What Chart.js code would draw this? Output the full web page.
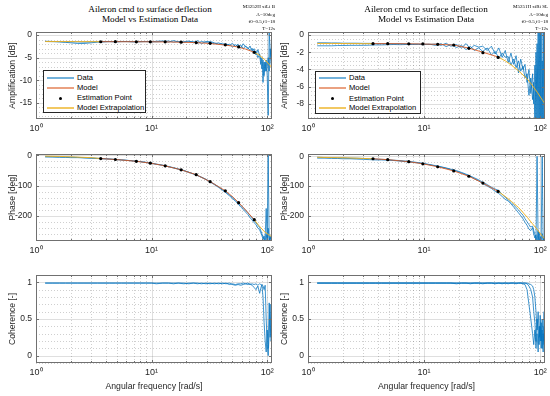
<!DOCTYPE html>
<html><head><meta charset="utf-8">
<script src="https://cdn.jsdelivr.net/npm/chart.js@4.4.0/dist/chart.umd.min.js"></script>
<style>
body{margin:0;background:#fff;}
#root{position:relative;width:550px;height:396px;overflow:hidden;background:#fff;font-family:'Liberation Sans',Arial,sans-serif;}
canvas{position:absolute;}
.title{position:absolute;font-family:'Liberation Serif','Times New Roman',serif;font-size:9.2px;line-height:9.5px;text-align:center;color:#000;white-space:nowrap;}
.note{position:absolute;font-family:'Liberation Serif','Times New Roman',serif;font-size:5px;line-height:7.3px;text-align:right;color:#000;white-space:nowrap;}
.legend{position:absolute;background:#fff;border:1px solid #262626;box-sizing:border-box;}
.row{position:absolute;left:0;height:10px;width:100%;}
.sw{position:absolute;left:3px;width:27px;top:4px;height:2px;}
.dot{position:absolute;left:15px;top:3.5px;width:3px;height:3px;border-radius:50%;background:#000;}
.lbl{position:absolute;left:33px;top:0;font-size:7.6px;line-height:10px;color:#000;white-space:nowrap;}
</style></head>
<body><div id="root"></div>
<script>
// ---------- data ----------
const freqData = [1.2,1.4,1.6,1.8,2.0,2.3,2.6,3.0,3.4,3.8,
  4.3,4.9,5.5,6.2,7.0,7.9,8.9,10,11,12.5,
  14,15.5,17,19,21,23,25,27,29.5,32,
  35,38,41,44,47,50,53,56,59,62,
  65,68,71,74,77,80,83,86,88,90,
  92,94,96,98,100,102,104,106,108,110];

const ampL_run1 = [-1.35,-1.4,-1.5,-1.6,-1.7,-1.85,-1.85,-1.7,-1.55,-1.5,
  -1.45,-1.45,-1.4,-1.45,-1.5,-1.4,-1.45,-1.5,-1.35,-1.3,
  -1.55,-1.2,-1.5,-1.45,-1.3,-1.7,-1.2,-1.9,-1.4,-1.6,
  -1.9,-1.7,-2.1,-1.9,-2.3,-1.8,-2.5,-2.0,-2.9,-1.9,
  -2.6,-3.1,-2.4,-3.6,-3.0,-4.4,-3.2,-4.5,-6.5,-5.0,
  -10.5,-6.0,-8.0,-5.5,-9.0,-17.8,0.6,-3.0,-6.5,-7.0];
const ampL_run2 = [-1.4,-1.45,-1.45,-1.5,-1.5,-1.5,-1.55,-1.5,-1.45,-1.45,
  -1.4,-1.5,-1.45,-1.4,-1.45,-1.5,-1.4,-1.45,-1.5,-1.4,
  -1.3,-1.55,-1.4,-1.6,-1.45,-1.4,-1.8,-1.4,-1.6,-1.4,
  -1.7,-2.0,-1.8,-2.3,-2.0,-2.6,-2.1,-2.5,-2.2,-3.0,
  -2.4,-2.8,-3.4,-2.9,-4.0,-3.5,-5.0,-4.2,-5.5,-7.5,
  -5.5,-9.0,-6.0,-8.0,-7.0,-5.0,-8.0,-3.0,-5.0,-7.5];

const ampR_run1 = [-0.9,-0.9,-0.92,-0.92,-0.95,-0.95,-0.95,-0.97,-0.97,-1.0,
  -1.0,-1.0,-1.02,-1.0,-1.02,-1.05,-1.05,-1.05,-1.1,-1.05,
  -1.2,-0.95,-1.3,-1.1,-1.5,-1.0,-1.6,-1.2,-1.4,-1.3,
  -1.8,-1.3,-2.2,-1.5,-2.6,-1.8,-3.2,-2.1,-3.4,-2.4,
  -4.4,-2.8,-4.0,-3.4,-5.5,-4.0,-6.8,-4.5,-8.0,-3.5,
  -9.7,-1.0,-9.7,0.35,-9.7,0.35,-9.7,0.35,-9.7,-6.0];
const ampR_run2 = [-1.25,-1.25,-1.25,-1.22,-1.22,-1.2,-1.2,-1.2,-1.18,-1.15,
  -1.15,-1.12,-1.1,-1.12,-1.1,-1.1,-1.08,-1.12,-1.05,-1.2,
  -1.0,-1.35,-1.1,-1.45,-1.2,-1.7,-1.3,-1.8,-1.5,-1.9,
  -1.5,-2.3,-1.9,-2.7,-2.1,-2.6,-2.5,-3.5,-2.8,-3.8,
  -3.0,-4.2,-3.6,-5.0,-4.5,-7.0,-5.0,-7.5,-5.5,-9.7,
  -2.0,-9.7,0.35,-9.7,0.35,-9.7,-3.0,-9.7,0.35,-8.0];

const phaseL_run1 = [-4,-5,-5,-6,-6,-7,-8,-9,-10,-11,
  -12,-14,-15,-17,-19,-21,-23,-26,-29,-33,
  -37,-41,-45,-50,-56,-61,-67,-72,-79,-87,
  -95,-104,-113,-121,-130,-138,-147,-156,-165,-172,
  -181,-189,-198,-206,-214,-222,-230,-238,-248,-258,
  -268,-280,-270,-175,-282,0,-282,-265,-280,-275];
const phaseL_run2 = [-6,-6,-7,-7,-8,-8,-9,-10,-11,-12,
  -13,-14,-16,-17,-19,-21,-24,-27,-30,-33,
  -38,-42,-46,-51,-56,-62,-67,-73,-80,-88,
  -97,-106,-115,-124,-133,-142,-151,-160,-170,-178,
  -187,-195,-205,-213,-222,-228,-240,-245,-255,-265,
  -275,-265,-282,-260,-282,-240,-282,-270,-282,-280];

const phaseR_run1 = [-3,-4,-4,-5,-5,-6,-6,-7,-8,-9,
  -10,-11,-13,-14,-16,-18,-21,-24,-27,-31,
  -35,-39,-43,-48,-54,-60,-66,-72,-79,-87,
  -95,-104,-110,-115,-128,-138,-146,-155,-164,-172,
  -180,-190,-198,-210,-220,-230,-238,-235,-250,-262,
  -285,0,-285,-255,-285,-270,0,-285,-270,-285];
const phaseR_run2 = [-6,-6,-7,-7,-8,-8,-9,-10,-11,-12,
  -12,-13,-14,-16,-18,-20,-22,-25,-28,-32,
  -36,-40,-45,-50,-56,-62,-68,-75,-82,-92,
  -100,-108,-118,-125,-135,-145,-150,-160,-170,-180,
  -190,-200,-210,-222,-232,-245,-250,-240,-262,-275,
  -265,-285,-250,-285,-270,-285,-260,-285,-275,-285];

const cohL_run1 = [0.99,0.99,0.99,0.99,0.99,0.99,0.99,0.99,0.99,0.99,
  0.99,0.99,0.99,0.99,0.99,0.99,0.99,0.99,0.99,0.99,
  0.99,0.99,0.99,0.98,0.99,0.99,0.98,0.99,0.98,0.99,
  0.98,0.99,0.98,0.99,0.97,0.98,0.97,0.98,0.98,0.99,
  0.98,0.99,0.97,0.98,0.97,0.98,0.96,0.98,0.97,0.96,
  0.8,0.45,0.2,0.05,0.35,0.1,0.72,0.25,0.5,0.75];
const cohL_run2 = [0.99,0.99,0.99,0.99,0.99,0.99,0.99,0.99,0.99,0.99,
  0.99,0.99,0.99,0.99,0.99,0.99,0.99,0.99,0.98,0.99,
  0.99,0.98,0.99,0.99,0.98,0.99,0.99,0.98,0.99,0.98,
  0.99,0.98,0.99,0.98,0.99,0.97,0.96,0.97,0.96,0.97,
  0.98,0.97,0.98,0.96,0.93,0.9,0.95,0.85,0.92,0.97,
  0.95,0.9,0.96,0.5,0.15,0.0,0.3,0.7,0.2,0.35];

const cohR_run1 = [0.99,0.99,0.99,0.99,0.99,0.99,0.99,0.99,0.99,0.99,
  0.99,0.99,0.99,0.99,0.99,0.99,0.99,0.99,0.99,0.99,
  0.99,0.99,0.99,0.99,0.99,0.99,0.99,0.99,0.99,0.99,
  0.99,0.99,0.99,0.99,0.99,0.99,0.99,0.99,0.99,0.99,
  0.99,0.99,0.98,0.97,0.9,0.7,0.5,0.3,0.15,0.35,
  0.1,0.3,0.05,0.4,0.2,0.45,0.1,0.3,0.15,0.4];
const cohR_run2 = [0.99,0.99,0.99,0.99,0.99,0.99,0.99,0.99,0.99,0.99,
  0.99,0.99,0.99,0.99,0.99,0.99,0.99,0.99,0.99,0.99,
  0.99,0.99,0.99,0.98,0.99,0.99,0.98,0.99,0.99,0.98,
  0.99,0.99,0.98,0.99,0.98,0.99,0.98,0.99,0.99,0.98,
  0.99,0.99,0.99,0.99,0.98,0.95,0.9,0.8,0.6,0.45,
  0.2,0.5,0.3,0.15,0.55,0.2,0.35,0.05,0.4,0.25];
const cohR_run3 = [0.99,0.99,0.99,0.99,0.99,0.99,0.99,0.99,0.99,0.99,
  0.99,0.99,0.99,0.99,0.99,0.99,0.99,0.99,0.99,0.99,
  0.99,0.99,0.99,0.99,0.99,0.99,0.99,0.99,0.99,0.99,
  0.99,0.99,0.99,0.99,0.99,0.99,0.99,0.99,0.99,0.99,
  0.99,0.99,0.99,0.99,0.99,0.98,0.97,0.95,0.9,0.8,
  0.6,0.35,0.6,0.25,0.4,0.1,0.5,0.2,0.6,0.1];

const modelFreq = [1.2,1.6,2.2,3.0,3.63,4.86,7.38,9.75,13.1,18.0,24.3,32.1,43.4,50,56.6,65,77.3,85,95,105,110];
const modelAmpL = [-1.42,-1.42,-1.43,-1.44,-1.45,-1.45,-1.46,-1.47,-1.5,-1.56,-1.66,-1.85,-2.2,-2.42,-2.65,-3.1,-3.8,-4.4,-5.4,-6.6,-7.3];
const modelPhaseL = [-3,-4,-6,-8,-11,-14,-20,-26,-35,-48,-64,-87,-117,-136,-156,-180,-212,-232,-252,-264,-268];
const modelAmpR = [-0.98,-0.98,-0.99,-1.0,-1.0,-1.0,-1.02,-1.05,-1.08,-1.17,-1.52,-2.0,-2.55,-3.0,-3.5,-4.15,-5.1,-5.8,-6.7,-7.6,-8.0];
const modelPhaseR = [-3,-4,-5,-7,-8,-11,-18,-25,-35,-49,-67,-90,-118,-135,-152,-172,-205,-225,-248,-270,-280];

const estFreqL = [3.63,4.86,7.38,9.75,13.1,18.0,24.3,32.1,43.4,56.6,77.3];
const estAmpL = [-1.46,-1.45,-1.47,-1.47,-1.49,-1.55,-1.64,-1.82,-2.15,-2.6,-3.8];
const estPhaseL = [-11,-14,-20,-26,-35,-48,-64,-87,-117,-156,-212];
const estFreqR = [3.63,4.86,7.38,9.75,13.1,18.0,24.3,32.1,43.4];
const estAmpR = [-1.0,-1.0,-1.02,-1.04,-1.08,-1.16,-1.55,-2.05,-2.6];
const estPhaseR = [-8,-11,-18,-25,-35,-49,-67,-90,-118];

const xTickValues = [1,10,100];
const xTickLabels = ['10\u2070','10\u00B9','10\u00B2'];
const ampLTicks = [-15,-10,-5,0];
const ampRTicks = [-8,-6,-4,-2,0];
const phaseTicks = [-200,-100,0];
const cohTicks = [0,0.5,1];

const titleLines = ['Aileron cmd to surface deflection','Model vs Estimation Data'];
const noteL = ['M3252H xiLi B','A=10deg','f0=0.5,f1=18','T=12s'];
const noteR = ['M5251H xiRi SL','A=10deg','f0=0.5,f1=18','T=12s'];
const legendLabels = ['Data','Model','Estimation Point','Model Extrapolation'];

// ---------- styling ----------
Chart.defaults.font.family = "'Liberation Sans', Arial, Helvetica, sans-serif";
Chart.defaults.color = '#262626';
const C_DATA = 'rgba(0,114,189,0.75)';
const C_MODEL = 'rgba(217,83,25,0.85)';
const C_EXTRAP = 'rgba(237,177,32,0.95)';
const C_FRAME = '#707070';
const LEG_COLORS = ['rgba(0,114,189,0.55)','rgba(217,83,25,0.55)','dot','rgba(237,177,32,0.7)'];

function pts(xs, ys){ return xs.map((x,i)=>({x:x, y:ys[i]})); }
function inRange(xs, ys, lo, hi){ return pts(xs,ys).filter(p=>p.x>=lo && p.x<=hi); }
function lineDs(data, color){ return {data, borderColor:color, borderWidth:1, pointRadius:0, fill:false, tension:0}; }

function buildSets(runs, mVals, eFreq, eVals){
  const ds = [];
  if (eFreq){
    ds.push({data:pts(eFreq,eVals), showLine:false, pointRadius:1.6, pointBackgroundColor:'#000', pointBorderWidth:0, borderColor:'#000'});
    const lo = eFreq[0], hi = eFreq[eFreq.length-1];
    ds.push(lineDs(inRange(modelFreq,mVals,0,lo), C_EXTRAP));
    ds.push(lineDs(inRange(modelFreq,mVals,hi,1e9), C_EXTRAP));
    ds.push(lineDs(inRange(modelFreq,mVals,lo,hi), C_MODEL));
  }
  runs.forEach(r=>ds.push(lineDs(pts(freqData,r), C_DATA)));
  return ds;
}

const matGrid = {
  id:'matGrid',
  beforeDatasetsDraw(chart, args, o){
    const {ctx, chartArea:a, scales:{x,y}} = chart;
    ctx.save();
    ctx.lineWidth = 1;
    // minor grid
    ctx.strokeStyle = 'rgba(38,38,38,0.22)';
    ctx.setLineDash([1,2]);
    ctx.beginPath();
    for (const d of [1,10,100]) for (let m=2;m<=9;m++){
      const v = d*m; if (v>=x.max) continue;
      const p = Math.round(x.getPixelForValue(v))+0.5;
      ctx.moveTo(p,a.top); ctx.lineTo(p,a.bottom);
    }
    for (let k=Math.ceil(y.min/o.yMinor); k*o.yMinor<y.max; k++){
      const v = k*o.yMinor;
      if (o.yTicks.some(t=>Math.abs(t-v)<1e-9)) continue;
      const p = Math.round(y.getPixelForValue(v))+0.5;
      ctx.moveTo(a.left,p); ctx.lineTo(a.right,p);
    }
    ctx.stroke();
    // major grid
    ctx.setLineDash([]);
    ctx.strokeStyle = 'rgba(38,38,38,0.15)';
    ctx.beginPath();
    for (const v of [10,100]){
      const p = Math.round(x.getPixelForValue(v))+0.5;
      ctx.moveTo(p,a.top); ctx.lineTo(p,a.bottom);
    }
    for (const v of o.yTicks){
      const p = Math.round(y.getPixelForValue(v))+0.5;
      ctx.moveTo(a.left,p); ctx.lineTo(a.right,p);
    }
    ctx.stroke();
    ctx.restore();
  },
  afterDatasetsDraw(chart, args, o){
    const {ctx, chartArea:a, scales:{x,y}} = chart;
    ctx.save();
    ctx.lineWidth = 1;
    ctx.strokeStyle = C_FRAME;
    ctx.beginPath();
    for (const d of [1,10,100]) for (let m=1;m<=9;m++){
      const v = d*m; if (v<=x.min || v>=x.max) continue;
      const len = m===1 ? 3 : 2;
      const p = Math.round(x.getPixelForValue(v))+0.5;
      ctx.moveTo(p,a.bottom); ctx.lineTo(p,a.bottom-len);
      ctx.moveTo(p,a.top); ctx.lineTo(p,a.top+len);
    }
    for (const v of o.yTicks){
      const p = Math.round(y.getPixelForValue(v))+0.5;
      ctx.moveTo(a.left,p); ctx.lineTo(a.left+3,p);
      ctx.moveTo(a.right,p); ctx.lineTo(a.right-3,p);
    }
    ctx.stroke();
    ctx.strokeRect(Math.round(a.left)+0.5, Math.round(a.top)+0.5, Math.round(a.width)-1, Math.round(a.height)-1);
    ctx.restore();
  }
};

const root = document.getElementById('root');

function panel(p){
  const cv = document.createElement('canvas');
  cv.width = p.w; cv.height = p.h;
  cv.style.left = p.left+'px'; cv.style.top = p.top+'px';
  cv.style.width = p.w+'px'; cv.style.height = p.h+'px';
  root.appendChild(cv);
  new Chart(cv.getContext('2d'), {
    type:'line',
    data:{datasets:p.datasets},
    options:{
      responsive:false, animation:false, devicePixelRatio:1, events:[],
      layout:{padding:{left:0, top:4, right:p.padRight, bottom:0}},
      plugins:{legend:{display:false}, tooltip:{enabled:false}, matGrid:{yMinor:p.yMinor, yTicks:p.yTicks}},
      scales:{
        x:{type:'logarithmic', min:1, max:110,
          afterBuildTicks:s=>{ s.ticks = xTickValues.map(v=>({value:v})); },
          ticks:{autoSkip:false, maxRotation:0, padding:4, font:{size:9}, color:'#262626',
            callback:(v)=>xTickLabels[xTickValues.indexOf(v)]},
          grid:{display:false, drawTicks:false}, border:{display:false},
          title:{display:!!p.xtitle, text:p.xtitle||'', font:{size:8.7}, color:'#262626', padding:{top:0,bottom:4}},
          afterFit:s=>{ s.height = p.xH; s.paddingLeft = 0; s.paddingRight = 0; }
        },
        y:{type:'linear', min:p.ymin, max:p.ymax,
          afterBuildTicks:s=>{ s.ticks = p.yTicks.map(v=>({value:v})); },
          ticks:{padding:4, font:{size:8.5}, color:'#262626', callback:v=>String(v)},
          grid:{display:false, drawTicks:false}, border:{display:false},
          title:{display:true, text:p.ytitle, font:{size:8.6}, color:'#262626', padding:{top:7.5,bottom:0}},
          afterFit:s=>{ s.width = 36; s.paddingTop = 0; s.paddingBottom = 0; }
        }
      }
    },
    plugins:[matGrid]
  });
}

// amplification
panel({left:0, top:28, w:282, h:107, padRight:10, xH:16, ymin:-18.6, ymax:0.7, yTicks:ampLTicks, yMinor:1, ytitle:'Amplification [dB]',
  datasets:buildSets([ampL_run1, ampL_run2], modelAmpL, estFreqL, estAmpL)});
panel({left:272, top:28, w:278, h:107, padRight:5, xH:16, ymin:-9.75, ymax:0.35, yTicks:ampRTicks, yMinor:0.5, ytitle:'Amplification [dB]',
  datasets:buildSets([ampR_run1, ampR_run2], modelAmpR, estFreqR, estAmpR)});
// phase
panel({left:0, top:150, w:282, h:107, padRight:10, xH:16, ymin:-282, ymax:4, yTicks:phaseTicks, yMinor:20, ytitle:'Phase [deg]',
  datasets:buildSets([phaseL_run1, phaseL_run2], modelPhaseL, estFreqL, estPhaseL)});
panel({left:272, top:150, w:278, h:107, padRight:5, xH:16, ymin:-285, ymax:8, yTicks:phaseTicks, yMinor:20, ytitle:'Phase [deg]',
  datasets:buildSets([phaseR_run1, phaseR_run2], modelPhaseR, estFreqR, estPhaseR)});
// coherence
panel({left:0, top:271, w:282, h:125, padRight:10, xH:33, ymin:-0.1, ymax:1.1, yTicks:cohTicks, yMinor:0.1, ytitle:'Coherence [-]', xtitle:'Angular frequency [rad/s]',
  datasets:buildSets([cohL_run1, cohL_run2])});
panel({left:272, top:271, w:278, h:125, padRight:5, xH:33, ymin:-0.1, ymax:1.1, yTicks:cohTicks, yMinor:0.1, ytitle:'Coherence [-]', xtitle:'Angular frequency [rad/s]',
  datasets:buildSets([cohR_run1, cohR_run2, cohR_run3])});

// titles & notes
function addDiv(cls, style, html){ const d=document.createElement('div'); d.className=cls; Object.assign(d.style, style); d.innerHTML=html; root.appendChild(d); return d; }
addDiv('title', {left:'30px', top:'5px', width:'240px'}, titleLines.join('<br>'));
addDiv('title', {left:'306px', top:'5px', width:'240px'}, titleLines.join('<br>'));
addDiv('note', {left:'175px', top:'3.3px', width:'100px'}, noteL.join('<br>'));
addDiv('note', {left:'448px', top:'3.3px', width:'100px'}, noteR.join('<br>'));

// legends
function legend(left, top, w, h){
  const box = addDiv('legend', {left:left+'px', top:top+'px', width:w+'px', height:h+'px'}, '');
  const rowTops = [1.5, 11.7, 22, 31.7];
  legendLabels.forEach((lab,i)=>{
    const r = document.createElement('div'); r.className='row'; r.style.top = rowTops[i]+'px';
    if (LEG_COLORS[i]==='dot'){ const d=document.createElement('div'); d.className='dot'; r.appendChild(d); }
    else { const s=document.createElement('div'); s.className='sw'; s.style.background = LEG_COLORS[i]; r.appendChild(s); }
    const t = document.createElement('div'); t.className='lbl'; t.textContent = lab; r.appendChild(t);
    box.appendChild(r);
  });
}
legend(43, 70, 103, 43);
legend(315, 70.5, 106, 43);
</script>
</body></html>
